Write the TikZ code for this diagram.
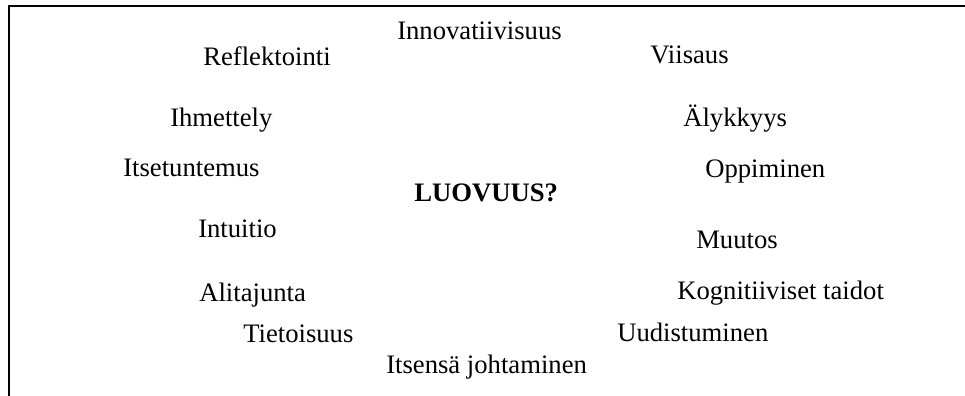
\documentclass[tikz,border=0pt]{standalone}
\usepackage{fontspec}
\setmainfont{Liberation Serif}
\begin{document}
\begin{tikzpicture}[x=0.75pt,y=-0.75pt,
  word/.style={anchor=base west,inner sep=0pt,font=\fontsize{20}{24}\selectfont},
  frameline/.style={line width=1.5pt,line cap=rect}]
\useasboundingbox (0,0) rectangle (965,396);
% open frame: top and left edges only
\coordinate (tl) at (9,6);
\coordinate (tr) at (965,6);
\coordinate (bl) at (9,396);
\draw[frameline] (bl) -- (tl) -- (tr);
% central question
\node[word,font=\fontsize{20}{24}\selectfont\bfseries] (luovuus) at (414,201) {LUOVUUS?};
% surrounding concepts
\node[word] (innov) at (397,40) {Innovatiivisuus};
\node[word] (refl) at (203,65) {Reflektointi};
\node[word] (viis) at (650,63) {Viisaus};
\node[word] (ihm) at (170,126) {Ihmettely};
\node[word] (aly) at (683,126) {Älykkyys};
\node[word] (itset) at (123,176) {Itsetuntemus};
\node[word] (opp) at (705,177) {Oppiminen};
\node[word] (intu) at (198,237) {Intuitio};
\node[word] (muut) at (696,248) {Muutos};
\node[word] (alit) at (199,301) {Alitajunta};
\node[word] (kogn) at (677,299) {Kognitiiviset taidot};
\node[word] (tiet) at (243,342) {Tietoisuus};
\node[word] (uud) at (617,341) {Uudistuminen};
\node[word] (itsj) at (386,373) {Itsensä johtaminen};
\end{tikzpicture}
\end{document}
